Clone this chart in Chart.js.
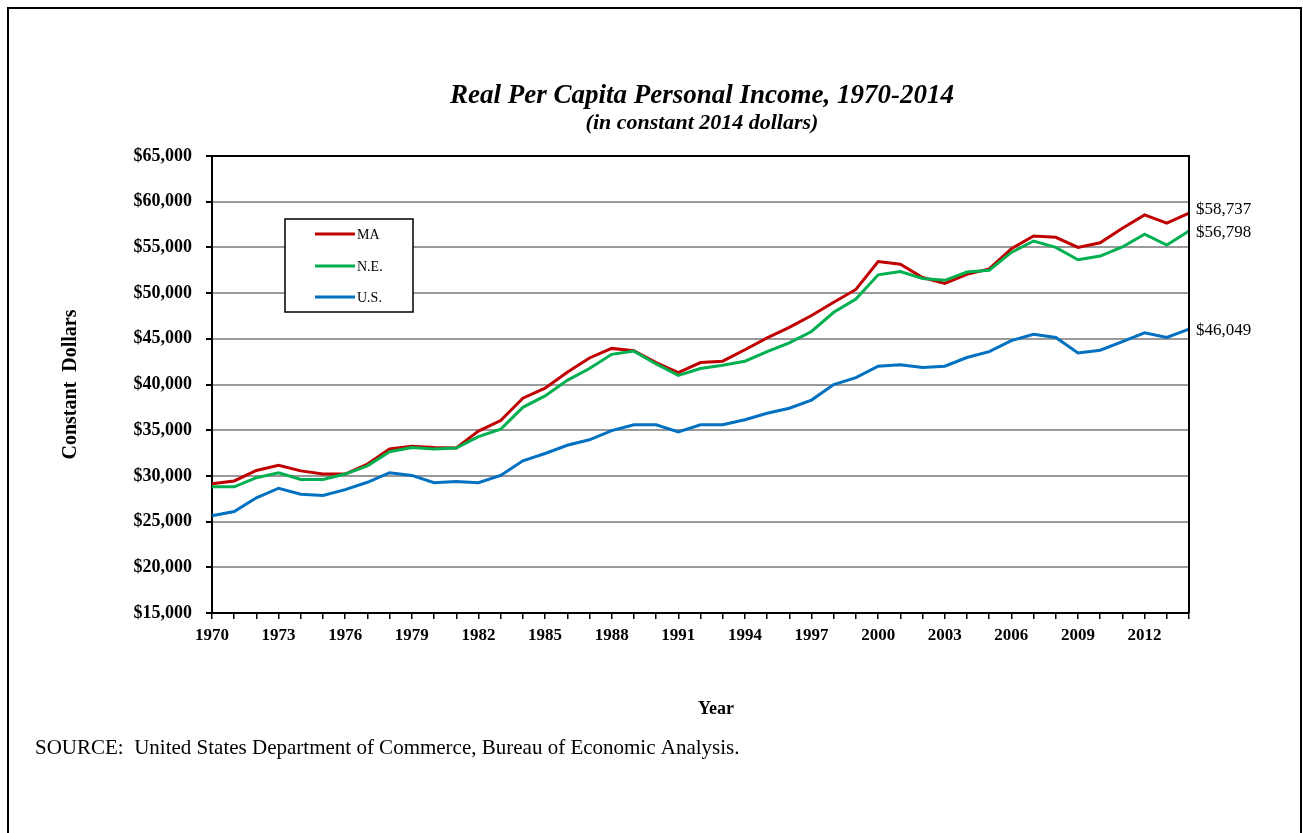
<!DOCTYPE html>
<html>
<head>
<meta charset="utf-8">
<script src="https://cdn.jsdelivr.net/npm/chart.js@4"></script>
<style>
  body { margin: 0; background: #fff; }
  canvas { display: block; }
</style>
</head>
<body>
<canvas id="myChart" width="1303" height="833"></canvas>
<script>
// years on the x axis
var years = [];
for (var y = 1970; y <= 2014; y++) years.push(String(y));

// real per capita personal income, constant 2014 dollars
var maIncome = [29150, 29450, 30600, 31150, 30550, 30200, 30200, 31300, 32950, 33250,
    33100, 33050, 34900, 36050, 38500, 39600, 41350, 42900, 43950, 43700,
    42400, 41300, 42400, 42550, 43800, 45100, 46250, 47550, 49000, 50400,
    53450, 53150, 51700, 51050, 52050, 52650, 54850, 56250, 56100, 55000,
    55500, 57100, 58550, 57650, 58737];
var neIncome = [28800, 28800, 29800, 30350, 29600, 29600, 30200, 31100, 32650, 33100,
    32950, 33050, 34300, 35100, 37500, 38750, 40450, 41750, 43300, 43650,
    42250, 41000, 41750, 42100, 42550, 43600, 44550, 45800, 47900, 49350,
    52000, 52350, 51600, 51400, 52300, 52500, 54450, 55700, 55000, 53650,
    54050, 55050, 56450, 55250, 56798];
var usIncome = [25650, 26100, 27600, 28650, 28000, 27850, 28500, 29300, 30350, 30050,
    29250, 29400, 29250, 30050, 31650, 32450, 33350, 33950, 34950, 35600,
    35600, 34800, 35600, 35600, 36150, 36850, 37400, 38300, 40000, 40750,
    42000, 42150, 41850, 42000, 42950, 43600, 44800, 45500, 45150, 43450,
    43750, 44700, 45650, 45150, 46049];

var seriesNames = ['MA', 'N.E.', 'U.S.'];
var yMin = 15000, yMax = 65000, yStep = 5000;

var SERIF = '"Liberation Serif", "Times New Roman", serif';

function money(v) {
    return '$' + Number(v).toLocaleString('en-US');
}

// frame, titles, inset legend, end labels, source line
var extras = {
    id: 'extras',
    afterDraw: function(chart) {
        var ctx = chart.ctx;
        var area = chart.chartArea;
        var ys = chart.scales.y;
        ctx.save();

        // page frame
        ctx.strokeStyle = '#000';
        ctx.lineWidth = 2;
        ctx.beginPath();
        ctx.moveTo(8, 840);
        ctx.lineTo(8, 8);
        ctx.lineTo(1301, 8);
        ctx.lineTo(1301, 840);
        ctx.stroke();

        // top and right of plot box
        ctx.beginPath();
        ctx.moveTo(area.left, area.top);
        ctx.lineTo(area.right, area.top);
        ctx.lineTo(area.right, area.bottom);
        ctx.stroke();

        ctx.fillStyle = '#000';
        ctx.textAlign = 'center';
        ctx.textBaseline = 'middle';
        ctx.font = 'italic bold 27px ' + SERIF;
        ctx.fillText('Real Per Capita Personal Income, 1970-2014', 702, 96);
        ctx.font = 'italic bold 22px ' + SERIF;
        ctx.fillText('(in constant 2014 dollars)', 702, 123);

        ctx.font = 'bold 18px ' + SERIF;
        ctx.fillText('Year', 716, 709);

        ctx.textAlign = 'left';
        ctx.font = '21px ' + SERIF;
        ctx.fillText('SOURCE:  United States Department of Commerce, Bureau of Economic Analysis.', 35, 748);

        // legend box
        ctx.lineWidth = 1.5;
        ctx.fillStyle = '#fff';
        ctx.fillRect(285, 219, 128, 93);
        ctx.strokeRect(285, 219, 128, 93);
        var legendY = [234, 266, 297];
        chart.data.datasets.forEach(function(ds, i) {
            ctx.strokeStyle = ds.borderColor;
            ctx.lineWidth = 3;
            ctx.beginPath();
            ctx.moveTo(315, legendY[i]);
            ctx.lineTo(355, legendY[i]);
            ctx.stroke();
            ctx.fillStyle = '#000';
            ctx.font = '14px ' + SERIF;
            ctx.fillText(ds.label, 357, legendY[i] + 1);
        });

        // last-value labels
        var nudge = [-4, 2, 1];
        ctx.font = '17px ' + SERIF;
        chart.data.datasets.forEach(function(ds, i) {
            var last = ds.data[ds.data.length - 1];
            ctx.fillStyle = '#000';
            ctx.fillText(money(last), area.right + 7, ys.getPixelForValue(last) + nudge[i]);
        });

        ctx.restore();
    }
};

var ctx = document.getElementById('myChart');
var myChart = new Chart(ctx, {
    type: 'line',
    data: {
        labels: years,
        datasets: [{
            label: seriesNames[0],
            data: maIncome,
            borderColor: '#C00000',
            order: 3
        }, {
            label: seriesNames[1],
            data: neIncome,
            borderColor: '#00B050',
            order: 2
        }, {
            label: seriesNames[2],
            data: usIncome,
            borderColor: '#0070C0',
            order: 1
        }]
    },
    options: {
        responsive: false,
        animation: false,
        devicePixelRatio: 1,
        layout: { padding: { left: 0, top: 156, right: 114, bottom: 0 } },
        elements: {
            line: { borderWidth: 3, tension: 0, fill: false },
            point: { radius: 0 }
        },
        plugins: {
            legend: { display: false },
            tooltip: { enabled: false }
        },
        scales: {
            x: {
                offset: false,
                afterFit: function(scale) { scale.height = 220; },
                grid: { drawOnChartArea: false, color: '#000', tickColor: '#000', tickLength: 6, lineWidth: 1.5 },
                border: { color: '#000', width: 2 },
                ticks: {
                    autoSkip: false,
                    maxRotation: 0,
                    padding: 6,
                    color: '#000',
                    font: { family: SERIF, size: 17, weight: 'bold' },
                    callback: function(val, idx) {
                        return idx % 3 === 0 ? years[idx] : '';
                    }
                }
            },
            y: {
                min: yMin,
                max: yMax,
                afterFit: function(scale) { scale.width = 212; },
                grid: { color: '#9a9a9a', lineWidth: 2, tickColor: '#000', tickLength: 6 },
                border: { color: '#000', width: 2 },
                ticks: {
                    stepSize: yStep,
                    padding: 14,
                    color: '#000',
                    font: { family: SERIF, size: 18, weight: 'bold' },
                    callback: function(v) { return money(v); }
                },
                title: {
                    display: true,
                    text: 'Constant  Dollars',
                    color: '#000',
                    font: { family: SERIF, size: 20, weight: 'bold' },
                    padding: { top: 59 }
                }
            }
        }
    },
    plugins: [extras]
});
</script>
</body>
</html>
